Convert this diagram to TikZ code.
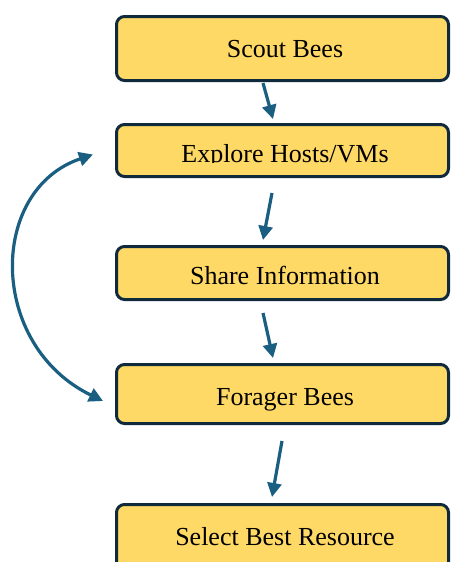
\documentclass[tikz,border=0pt]{standalone}
\usepackage{fontspec}
\setmainfont{Liberation Serif}
\usetikzlibrary{arrows.meta}
\definecolor{boxfill}{HTML}{FFD966}
\definecolor{boxline}{HTML}{0F2A3D}
\definecolor{arrowblue}{HTML}{1A5F82}
\tikzset{
  stepbox/.style={draw=boxline, fill=boxfill, line width=3pt, rounded corners=8pt,
    minimum width=332pt, inner sep=0pt},
  steptext/.style={anchor=base, font=\fontsize{26pt}{30pt}\selectfont, inner sep=0pt, text=black},
  flowarrow/.style={draw=arrowblue, line width=3.2pt, -{Triangle[length=14pt,width=14pt]}},
}
\begin{document}
\begin{tikzpicture}[x=1pt,y=-1pt]
\clip (0,0) rectangle (450,562);
\fill[white] (0,0) rectangle (450,562);
% boxes
\node[stepbox, minimum height=64pt] (scout) at (282.5,48.5) {};
\node[stepbox, minimum height=52pt] (explore) at (282.5,150.5) {};
\node[stepbox, minimum height=53pt] (share) at (282.5,273) {};
\node[stepbox, minimum height=59pt] (forager) at (282.5,394) {};
\node[stepbox, minimum height=66pt] (select) at (282.5,537.5) {};
% texts
\node[steptext] (tscout) at (285,57.5) {Scout Bees};
\begin{scope}
\clip (118,126) rectangle (447,162.3);
\node[steptext] (texplore) at (285,162.3) {Explore Hosts/VMs};
\end{scope}
\node[steptext] (tshare) at (285,284) {Share Information};
\node[steptext] (tforager) at (285,405) {Forager Bees};
\node[steptext] (tselect) at (285,545) {Select Best Resource};
% straight arrows
\draw[flowarrow] ([xshift=-19.5pt,yshift=-1pt]scout.south) -- ([xshift=-9.5pt,yshift=4pt]explore.north);
\draw[flowarrow] ([xshift=-10.5pt,yshift=-15pt]explore.south) -- ([xshift=-19.5pt,yshift=5pt]share.north);
\draw[flowarrow] ([xshift=-19.5pt,yshift=-12pt]share.south) -- ([xshift=-9.5pt,yshift=5pt]forager.north);
\draw[flowarrow] ([xshift=-0.5pt,yshift=-16pt]forager.south) -- ([xshift=-10.5pt,yshift=6pt]select.north);
% loop arrow
\coordinate (ltop) at ([xshift=-22pt,yshift=-4pt]explore.west);
\coordinate (lbot) at ([xshift=-12pt,yshift=-7pt]forager.west);
\draw[flowarrow, {Triangle[length=14pt,width=14pt]}-{Triangle[length=14pt,width=14pt]}]
  (ltop) .. controls (-12,190) and (-12,345) .. (lbot);
\end{tikzpicture}
\end{document}
